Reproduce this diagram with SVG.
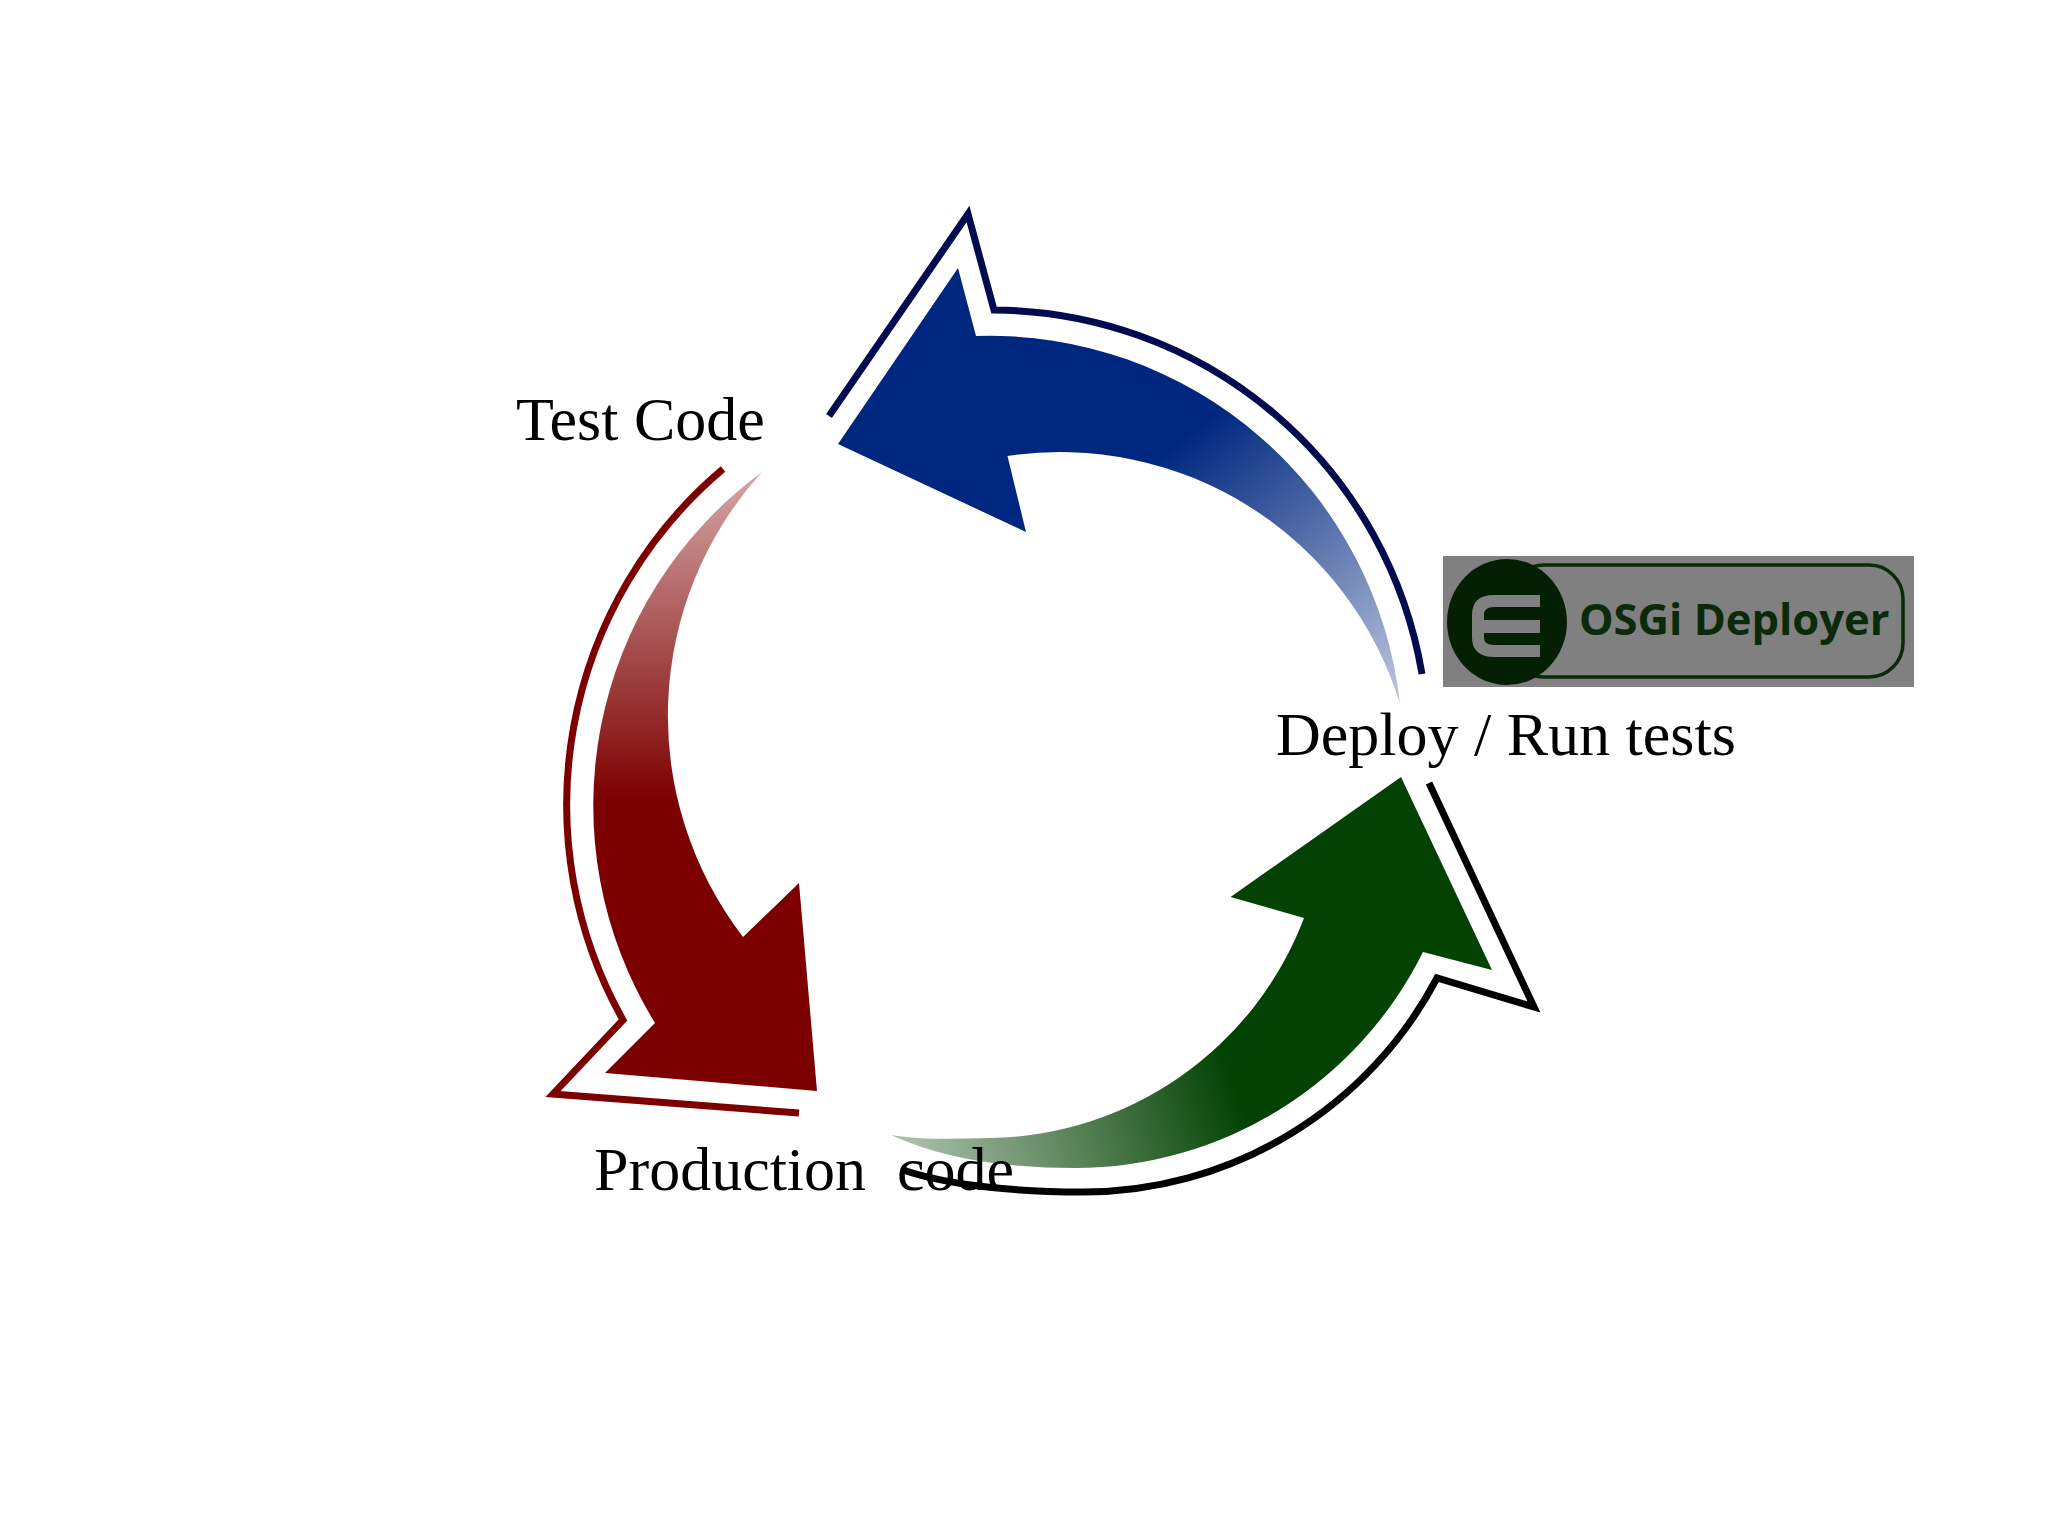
<svg xmlns="http://www.w3.org/2000/svg" width="2048" height="1536" viewBox="0 0 2048 1536">
<style>
.lbl{font-family:"Liberation Serif","Times New Roman",serif;font-size:62px;fill:#000;white-space:pre}
.outline{fill:none;stroke-width:7;stroke-linejoin:miter;stroke-miterlimit:10}
.badge-text{font-family:"Open Sans","Noto Sans",sans-serif;font-weight:700;font-size:43.5px;fill:#0a2a0a}
</style>
<defs>
<linearGradient id="gBlue" gradientUnits="userSpaceOnUse" x1="1200" y1="425" x2="1415" y2="688">
<stop offset="0" stop-color="#00277f"/><stop offset="1" stop-color="#bcc5dd"/>
</linearGradient>
<linearGradient id="gRed" gradientUnits="userSpaceOnUse" x1="0" y1="800" x2="0" y2="470">
<stop offset="0" stop-color="#7d0000"/><stop offset="1" stop-color="#d6a8a8"/>
</linearGradient>
<linearGradient id="gGreen" gradientUnits="userSpaceOnUse" x1="1235" y1="1085" x2="921" y2="1185">
<stop offset="0" stop-color="#034203"/><stop offset="1" stop-color="#aac0aa"/>
</linearGradient>
</defs>
<rect width="2048" height="1536" fill="#fff"/>
<g id="connectors">
<g id="arrow-blue">
<path class="outline" stroke="#010b50" d="M829 416L968 214L994 310A436 436 0 0 1 1422 674"/>
<path fill="url(#gBlue)" d="M958 268L838 444L1026 532L1007.5 456A355 355 0 0 1 1400 704A413 413 0 0 0 976 336Z"/>
</g>
<g id="arrow-red">
<path class="outline" stroke="#7d0000" d="M723 469A439 439 0 0 0 623 1020L553 1094L799 1113"/>
<path fill="url(#gRed)" d="M762 472A414 414 0 0 0 655 1023L605 1073L817 1091L799 883L743 937A363 363 0 0 1 762 472Z"/>
</g>
<g id="arrow-green">
<path class="outline" stroke="#000" d="M903 1170C950 1186 1020 1192 1083 1192A400 400 0 0 0 1437 978L1534 1007L1429 783"/>
<path fill="url(#gGreen)" d="M891 1135C945 1160 1010 1168 1075 1168A389 389 0 0 0 1423 952L1492 970L1401 777L1230.5 897L1304 918A341 341 0 0 1 990 1138C955 1139 920 1140 891 1135Z"/>
</g>
</g>
<g id="node-test-code"><text class="lbl" x="516" y="440">Test Code</text></g>
<g id="node-production-code"><text class="lbl" x="594" y="1190">Production  code</text></g>
<g id="node-deploy-run-tests"><text class="lbl" x="1276" y="755">Deploy / Run tests</text></g>
<g id="node-osgi-deployer">
<rect x="1443" y="556" width="471" height="131" fill="#808080"/>
<rect x="1510" y="565" width="393" height="112" rx="34" fill="none" stroke="#0a2a0a" stroke-width="3.5"/>
<ellipse cx="1507" cy="622" rx="60" ry="63" fill="#041f04"/>
<path fill="#808080" d="M1494 595H1540V607H1494Q1484 607 1484 615V620H1540V633H1484V638Q1484 645 1494 645H1540V657H1494Q1472 657 1472 637V615Q1472 595 1494 595Z"/>
<text class="badge-text" x="1579" y="635">OSGi Deployer</text>
</g>
</svg>
